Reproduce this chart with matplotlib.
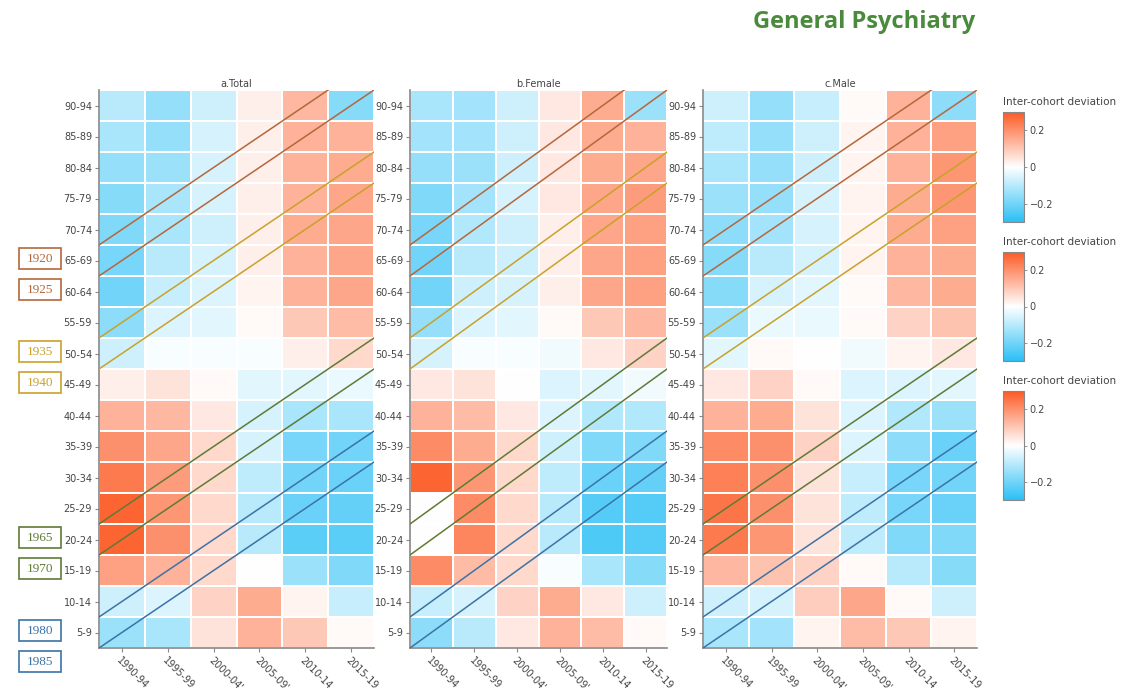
import numpy as np
import matplotlib.pyplot as plt
import matplotlib.transforms as mtransforms
from matplotlib.colors import LinearSegmentedColormap
from matplotlib.patches import Rectangle

periods = ["1990-94", "1995-99", "2000-04'", "2005-09'", "2010-14", "2015-19"]
age_groups = ["90-94", "85-89", "80-84", "75-79", "70-74", "65-69", "60-64", "55-59",
              "50-54", "45-49", "40-44", "35-39", "30-34", "25-29", "20-24", "15-19",
              "10-14", "5-9"]

# inter-cohort deviation, rows top (90-94) to bottom (5-9)
total = [
    [-0.10, -0.15, -0.07, 0.03, 0.13, -0.17],
    [-0.12, -0.15, -0.06, 0.03, 0.14, 0.14],
    [-0.15, -0.14, -0.06, 0.03, 0.14, 0.15],
    [-0.17, -0.12, -0.06, 0.03, 0.14, 0.16],
    [-0.18, -0.12, -0.07, 0.03, 0.15, 0.16],
    [-0.19, -0.10, -0.06, 0.03, 0.14, 0.16],
    [-0.20, -0.08, -0.05, 0.02, 0.14, 0.16],
    [-0.16, -0.05, -0.04, 0.01, 0.10, 0.12],
    [-0.07, -0.01, -0.01, -0.01, 0.03, 0.07],
    [0.03, 0.05, 0.01, -0.04, -0.04, -0.03],
    [0.14, 0.13, 0.04, -0.06, -0.12, -0.12],
    [0.20, 0.16, 0.07, -0.06, -0.19, -0.20],
    [0.24, 0.18, 0.07, -0.09, -0.20, -0.21],
    [0.28, 0.19, 0.07, -0.10, -0.21, -0.22],
    [0.28, 0.20, 0.07, -0.10, -0.23, -0.23],
    [0.17, 0.14, 0.07, 0.00, -0.14, -0.18],
    [-0.07, -0.05, 0.08, 0.15, 0.02, -0.08],
    [-0.14, -0.12, 0.05, 0.14, 0.10, 0.01],
]
female = [
    [-0.12, -0.13, -0.07, 0.04, 0.15, -0.14],
    [-0.13, -0.13, -0.07, 0.04, 0.15, 0.14],
    [-0.15, -0.14, -0.07, 0.04, 0.15, 0.16],
    [-0.18, -0.13, -0.06, 0.04, 0.16, 0.18],
    [-0.19, -0.11, -0.07, 0.03, 0.16, 0.17],
    [-0.20, -0.10, -0.07, 0.03, 0.16, 0.17],
    [-0.20, -0.07, -0.06, 0.03, 0.16, 0.17],
    [-0.15, -0.05, -0.04, 0.01, 0.10, 0.13],
    [-0.06, -0.01, -0.01, -0.02, 0.04, 0.08],
    [0.04, 0.05, 0.00, -0.05, -0.04, -0.02],
    [0.14, 0.12, 0.04, -0.05, -0.11, -0.11],
    [0.21, 0.15, 0.07, -0.07, -0.18, -0.18],
    [0.28, 0.19, 0.07, -0.09, -0.21, -0.22],
    [0.00, 0.21, 0.07, -0.10, -0.24, -0.24],
    [0.00, 0.22, 0.07, -0.10, -0.25, -0.24],
    [0.21, 0.12, 0.07, -0.01, -0.12, -0.17],
    [-0.08, -0.06, 0.08, 0.15, 0.04, -0.07],
    [-0.16, -0.10, 0.04, 0.14, 0.12, 0.01],
]
male = [
    [-0.07, -0.15, -0.08, 0.01, 0.14, -0.16],
    [-0.09, -0.15, -0.07, 0.02, 0.14, 0.17],
    [-0.12, -0.15, -0.07, 0.02, 0.14, 0.19],
    [-0.14, -0.15, -0.06, 0.02, 0.15, 0.19],
    [-0.16, -0.13, -0.06, 0.02, 0.15, 0.17],
    [-0.17, -0.10, -0.06, 0.02, 0.14, 0.15],
    [-0.17, -0.06, -0.04, 0.01, 0.13, 0.15],
    [-0.14, -0.03, -0.03, 0.01, 0.08, 0.11],
    [-0.04, 0.01, 0.00, -0.02, 0.02, 0.04],
    [0.04, 0.08, 0.01, -0.05, -0.05, -0.04],
    [0.14, 0.15, 0.05, -0.05, -0.11, -0.14],
    [0.21, 0.20, 0.08, -0.05, -0.16, -0.21],
    [0.23, 0.20, 0.05, -0.08, -0.19, -0.20],
    [0.25, 0.20, 0.05, -0.09, -0.19, -0.21],
    [0.24, 0.19, 0.05, -0.09, -0.18, -0.18],
    [0.13, 0.11, 0.08, 0.01, -0.10, -0.17],
    [-0.07, -0.06, 0.09, 0.16, 0.01, -0.07],
    [-0.12, -0.13, 0.02, 0.12, 0.10, 0.02],
]
panel_titles = ["a.Total", "b.Female", "c.Male"]

cohorts = [1920, 1925, 1935, 1940, 1965, 1970, 1980, 1985]
cohort_colors = ["#b5673b", "#b5673b", "#c9a12a", "#c9a12a",
                 "#5f7b36", "#5f7b36", "#3b73a6", "#3b73a6"]

cmap = LinearSegmentedColormap.from_list("dev", ["#2bbff5", "#ffffff", "#fc5a24"])
grey = "#444444"

W, H = 1124, 691
fig = plt.figure(figsize=(W / 100, H / 100), dpi=100)

panels = [(99, 374), (410, 667), (703, 977)]
top_px, bot_px = 90, 648

overlays = []
for (x0, x1), data, title in zip(panels, [total, female, male], panel_titles):
    rect = [x0 / W, 1 - bot_px / H, (x1 - x0) / W, (bot_px - top_px) / H]
    ax = fig.add_axes(rect)
    mesh = ax.pcolormesh(np.array(data), cmap=cmap, vmin=-0.3, vmax=0.3,
                         edgecolors="white", linewidth=1.3)
    ax.set_xlim(0, len(periods))
    ax.set_ylim(len(age_groups), 0)
    ax.set_xticks(np.arange(len(periods)) + 0.5)
    ax.set_xticklabels(periods, rotation=-45, ha="left", va="top",
                       rotation_mode="anchor", fontsize=7, color=grey)
    ax.set_yticks(np.arange(len(age_groups)) + 0.5)
    ax.set_yticklabels(age_groups, fontsize=7, color=grey)
    ax.tick_params(length=3, width=0.8, color="#888888", pad=2)
    for s in ["top", "right"]:
        ax.spines[s].set_visible(False)
    for s in ["left", "bottom"]:
        ax.spines[s].set_color("#888888")
        ax.spines[s].set_linewidth(1.2)
    ax.set_title(title, fontsize=7, color=grey, pad=2)

    # cohort lines: age = calendar year - birth cohort
    ov = fig.add_axes(rect, zorder=ax.get_zorder() + 1)
    ov.patch.set_visible(False)
    ov.axis("off")
    ov.set_xlim(1990, 2020)
    ov.set_ylim(5, 95)
    yrs = np.array([1990, 2020])
    for c, col in zip(cohorts, cohort_colors):
        ov.plot(yrs, yrs - c, color=col, linewidth=1.1)
    overlays.append(ov)

# cohort labels on the left
trans = mtransforms.blended_transform_factory(fig.transFigure, overlays[0].transData)
box_h = 21 / ((bot_px - top_px) / 90)
for c, col in zip(cohorts, cohort_colors):
    yc = 1990 - c - 2.2
    fig.patches.append(Rectangle((19 / W, yc - box_h / 2), 42 / W, box_h, transform=trans,
                                 fc="white", ec=col, lw=1.2))
    fig.text(40 / W, yc, str(c), transform=trans, ha="center", va="center",
             fontsize=9.5, color=col, family="Liberation Serif")

# colour bars
for top, bot in [(112, 222), (252, 361), (391, 500)]:
    cax = fig.add_axes([1003 / W, 1 - bot / H, 21 / W, (bot - top) / H])
    cb = fig.colorbar(mesh, cax=cax, ticks=[-0.2, 0, 0.2])
    cb.ax.set_yticklabels(["\u22120.2", "0", "0.2"])
    cb.ax.tick_params(labelsize=7, labelcolor=grey, length=2, width=0.6,
                      color="#888888", pad=2)
    cb.outline.set_edgecolor("#888888")
    cb.outline.set_linewidth(0.8)
    fig.text(1003 / W, 1 - (top - 10) / H, "Inter-cohort deviation", fontsize=7.5,
             color=grey, ha="left", va="center")

fig.text(975 / W, 1 - 22 / H, "General Psychiatry", fontsize=17, fontweight="bold",
         family="Open Sans", color="#4a8a3c", ha="right", va="center")

fig.savefig("out.png", dpi=100)
